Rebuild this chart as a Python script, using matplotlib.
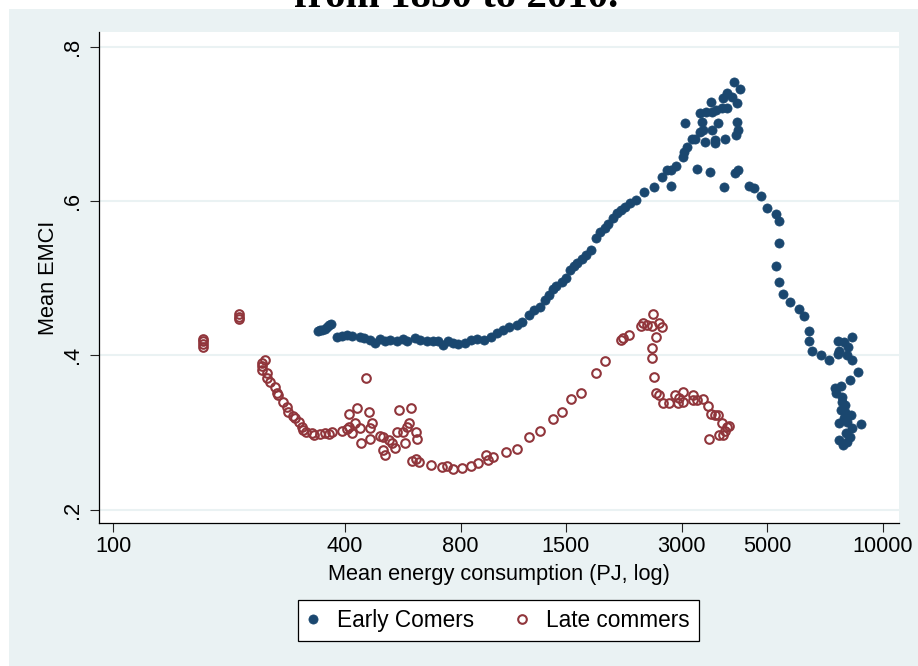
import numpy as np
import matplotlib
matplotlib.use('Agg')
from matplotlib import pyplot as plt
from matplotlib.patches import Rectangle

# Early comers: mean energy consumption (PJ) vs mean EMCI
early_x = [339.8, 343.9, 348, 354.3, 360.6, 365, 369.4,
           382.9, 393, 404.1, 418, 436.9, 450, 463.8, 477.9, 492.3, 507.3,
           522.7, 545, 564.9, 582, 606.9, 625.4, 652.2, 675.9, 696.5, 717.6,
           739.4, 761.8, 785.1, 818.6, 853.4, 884.6, 922.4, 961.8, 997,
           1027.3, 1071, 1117, 1157.6, 1207, 1243.5, 1282, 1320.7, 1352.7,
           1386, 1418.8, 1462, 1497.4, 1533.7, 1571, 1608.2, 1648, 1688, 1739,
           1802, 1846, 1891, 1936, 1984, 2032, 2081, 2131,
           2196, 2289, 2401, 2549, 2659, 2740, 2822, 2908, 3015, 3033, 3106,
           3182, 3240, 3338, 3398, 3378, 3357, 3479, 3585, 3607, 3694, 3717,
           3607, 3459, 3651, 3651, 3876, 3807, 3923, 3830, 3923, 4042, 4165,
           4091, 4241, 4165, 4190, 4140, 3069, 2806, 3278, 3543, 3853, 4116,
           4190, 4500, 4637, 4835, 5012, 5258, 5353, 5353, 5258, 5385, 5483,
           5751, 6069, 6253, 6405, 6443, 6521, 6882, 7262, 7663, 7709, 7663,
           7943, 8136, 8333, 8087, 8284, 8587, 8185, 7801, 7527, 7572, 7849,
           7849, 7801, 7990, 7709, 8087, 8284, 8742, 8039, 8185, 7709, 7896,
           8087, 7943, 8235, 7990]
early_y = [0.432, 0.433, 0.433, 0.434, 0.437, 0.439, 0.441,
           0.424, 0.425, 0.426, 0.425, 0.424, 0.422, 0.420, 0.416, 0.421, 0.419,
           0.420, 0.419, 0.421, 0.419, 0.423, 0.420, 0.419, 0.418, 0.418, 0.414,
           0.418, 0.416, 0.415, 0.416, 0.420, 0.421, 0.420, 0.424, 0.429,
           0.433, 0.437, 0.439, 0.443, 0.452, 0.459, 0.463, 0.472, 0.478,
           0.486, 0.490, 0.495, 0.500, 0.511, 0.516, 0.520, 0.525, 0.530, 0.537,
           0.552, 0.560, 0.565, 0.570, 0.578, 0.584, 0.588, 0.592,
           0.597, 0.601, 0.612, 0.618, 0.631, 0.640, 0.640, 0.645, 0.657, 0.664,
           0.670, 0.680, 0.680, 0.689, 0.692, 0.702, 0.714, 0.715, 0.728, 0.715,
           0.718, 0.701, 0.692, 0.676, 0.679, 0.675, 0.680, 0.721, 0.721, 0.733,
           0.740, 0.735, 0.727, 0.754, 0.745, 0.702, 0.692, 0.686, 0.701, 0.619,
           0.641, 0.638, 0.618, 0.636, 0.640, 0.619, 0.617, 0.607, 0.591, 0.583,
           0.574, 0.546, 0.516, 0.495, 0.480, 0.469, 0.460, 0.451, 0.432, 0.419,
           0.406, 0.400, 0.394, 0.402, 0.406, 0.419, 0.417, 0.411, 0.424, 0.400,
           0.394, 0.378, 0.368, 0.360, 0.358, 0.351, 0.346, 0.340, 0.329, 0.327,
           0.312, 0.314, 0.306, 0.311, 0.299, 0.294, 0.290, 0.284, 0.288, 0.319,
           0.323, 0.336]

# Late commers
late_x = [170.8, 170.8, 170.8, 171, 212.4, 213, 213,
          247.5, 244.5, 243.1, 244.5, 250.5, 250.5, 255, 262.8, 266, 267.5,
          275.6, 282.3, 284, 292.6, 296.1, 303.3, 308.8, 310.6, 318.1, 327.8,
          333.7, 343.9, 354.3, 365, 371.6, 392.2, 404.1, 411.4, 416.4, 424,
          429.1, 409, 436.9, 439.5, 452.8, 461, 469.4, 463.8, 463.8, 492.3,
          501.2, 501.2, 507.3, 519.6, 529, 538.6, 545, 551.6, 564.9, 571.7,
          578.6, 592.6, 589, 610.6, 614.3, 596.2, 610.6, 621.6, 668, 713.3,
          735, 761.8, 804, 848.4, 889.9, 933.4, 944.6, 973.4, 1045.9, 1117,
          1207, 1282, 1386, 1462, 1552, 1638, 1792, 1902, 2093, 2106, 2183,
          2345, 2387, 2445, 2534, 2519, 2627, 2659, 2580, 2519, 2519, 2549,
          2580, 2627, 2675, 2773, 2891, 3015, 2961, 2926, 3015, 3201, 3201,
          3278, 3398, 3501, 3585, 3651, 3717, 3807, 3923, 3970, 3876, 3739,
          3830, 3523]
late_y = [0.421, 0.418, 0.415, 0.411, 0.454, 0.450, 0.447,
          0.394, 0.390, 0.386, 0.381, 0.377, 0.371, 0.366, 0.359, 0.351, 0.349,
          0.340, 0.333, 0.327, 0.321, 0.319, 0.314, 0.307, 0.303, 0.301, 0.299,
          0.297, 0.298, 0.299, 0.298, 0.301, 0.302, 0.305, 0.307, 0.299, 0.312,
          0.332, 0.324, 0.306, 0.287, 0.371, 0.327, 0.312, 0.306, 0.292, 0.296,
          0.294, 0.277, 0.271, 0.290, 0.287, 0.280, 0.301, 0.329, 0.301, 0.287,
          0.307, 0.332, 0.312, 0.301, 0.292, 0.263, 0.266, 0.262, 0.258, 0.255,
          0.257, 0.253, 0.254, 0.257, 0.261, 0.271, 0.264, 0.268, 0.275, 0.279,
          0.294, 0.302, 0.318, 0.326, 0.344, 0.351, 0.377, 0.393, 0.420, 0.422,
          0.426, 0.438, 0.442, 0.439, 0.454, 0.438, 0.442, 0.437, 0.424, 0.410,
          0.397, 0.372, 0.351, 0.349, 0.338, 0.338, 0.349, 0.353, 0.345, 0.338,
          0.340, 0.349, 0.342, 0.342, 0.344, 0.334, 0.324, 0.323, 0.323, 0.312,
          0.307, 0.309, 0.302, 0.297, 0.297, 0.292]

x_ticks = [100, 400, 800, 1500, 3000, 5000, 10000]
y_ticks = [0.2, 0.4, 0.6, 0.8]
y_labels = ['.2', '.4', '.6', '.8']

navy = '#1a476f'
maroon = '#90353b'
bg = '#eaf2f3'
fs = 15.7
plt.rcParams['font.family'] = ['Liberation Sans', 'DejaVu Sans']

fig = plt.figure(figsize=(9.18, 6.66), dpi=100)
fig.patch.set_facecolor('white')
# graph region (the figure is cropped, the title is cut off at the top)
fig.patches.append(Rectangle((9/918, 0), 1, 1 - 9/666, transform=fig.transFigure,
                             facecolor=bg, edgecolor='none', zorder=-5))
fig.text(456/918, 1 - 7/666, 'from 1850 to 2010.', ha='center', va='baseline',
         fontsize=29.5, fontweight='bold', family='Liberation Serif', zorder=5)

ax = fig.add_axes([99/918, 1 - 523.3/666, 800/918, 491/666], zorder=2)
ax.set_facecolor('white')
ax.set_xscale('log')
ax.set_xlim(91.96, 11005)
ax.set_ylim(0.1824, 0.8187)

for v in y_ticks:
    ax.axhline(v, color=bg, lw=1.5, zorder=1)

ax.plot(early_x, early_y, 'o', color=navy, ms=6.6, mec=navy, mew=0.5,
        zorder=3, label='Early Comers')
ax.plot(late_x, late_y, 'o', color=maroon, ms=6.2, mfc='none', mec=maroon,
        mew=1.5, zorder=3, label='Late commers')

ax.spines['top'].set_visible(False)
ax.spines['right'].set_visible(False)
ax.spines['left'].set_linewidth(0.9)
ax.spines['bottom'].set_linewidth(0.9)

ax.xaxis.set_minor_locator(matplotlib.ticker.NullLocator())
ax.set_xticks(x_ticks)
ax.set_xticklabels([str(t) for t in x_ticks])
ax.set_yticks(y_ticks)
ax.set_yticklabels(y_labels, rotation=90, va='center')
ax.tick_params(axis='both', length=6.5, width=0.8, labelsize=fs, color='#222222')
ax.tick_params(axis='x', pad=3)
ax.tick_params(axis='y', pad=5)

ax.set_xlabel('Mean energy consumption (PJ, log)', fontsize=fs, labelpad=5)
ax.set_ylabel('Mean EMCI', fontsize=fs, labelpad=2)

leg = fig.legend(loc='center', bbox_to_anchor=(498.5/918, 1 - 620.5/666), ncol=2,
                 fontsize=16.3, frameon=True, fancybox=False, borderpad=0.4,
                 handlelength=0.5, handletextpad=0.8, columnspacing=1.9,
                 borderaxespad=0)
leg.get_frame().set_edgecolor('black')
leg.get_frame().set_linewidth(0.9)
leg.get_frame().set_facecolor('white')
leg.get_frame().set_alpha(1)

fig.savefig('out.png', dpi=100, facecolor=fig.get_facecolor())
